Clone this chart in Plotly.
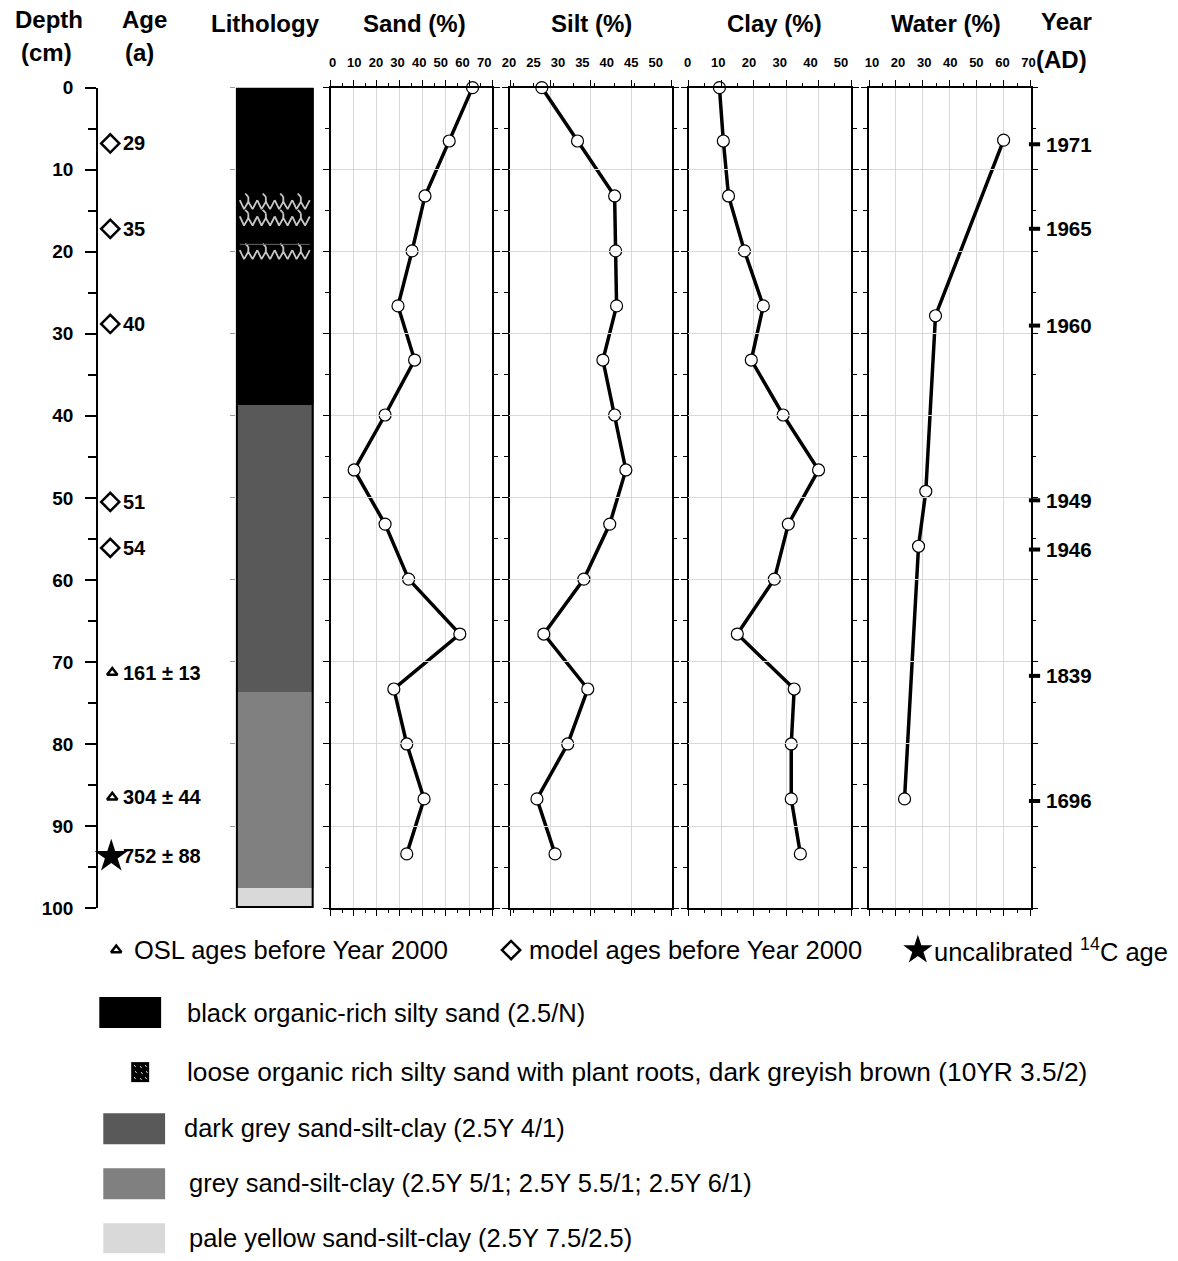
import plotly.graph_objects as go

# The photographed page appears slightly squeezed (x * 0.991, y * 0.983) and the html body keeps an
# 8px margin; layout positions below are given in reference-picture pixels and mapped accordingly.
SX, SY = 0.991, 0.983
DX, DY = 2.5, -2.5
OFF = 8
W, H = 1173, 1268
FONT = "Liberation Sans"

# ---------------- data ----------------
depth = [0, 6.5, 13.2, 19.9, 26.6, 33.2, 39.9, 46.6, 53.2, 59.9, 66.6, 73.3, 80.0, 86.7, 93.4]
sand = [61.5, 51.4, 40.9, 35.3, 29.2, 36.4, 23.6, 10.2, 23.6, 33.8, 56.0, 27.4, 33.0, 40.5, 33.0]
silt = [26.5, 33.8, 41.4, 41.6, 41.8, 39.0, 41.4, 43.7, 40.4, 35.1, 26.9, 35.9, 31.8, 25.5, 29.2]
clay = [9.5, 10.7, 12.3, 17.2, 23.0, 19.3, 29.1, 40.0, 30.7, 26.4, 15.0, 32.5, 31.6, 31.6, 34.4]
water_depth = [6.4, 27.8, 49.2, 55.9, 86.7]
water = [60.0, 34.7, 31.1, 28.4, 23.2]

model_age_depth = [6.8, 17.2, 28.8, 50.5, 56.1]
model_age = ["29", "35", "40", "51", "54"]
osl_depth = [71.3, 86.5]
osl_age = ["161 ± 13", "304 ± 44"]
c14_depth = [93.7]
c14_age = ["752 ± 88"]

year_depth = [6.9, 17.2, 29.0, 50.3, 56.3, 71.7, 86.95]
year_label = ["1971", "1965", "1960", "1949", "1946", "1839", "1696"]

litho_top = [0, 38.7, 73.6, 97.5]
litho_bottom = [38.7, 73.6, 97.5, 100]
litho_color = ["#000000", "#595959", "#808080", "#d9d9d9"]
root_rows = [14.3, 16.3, 20.4]
root_separator = 19.1

legend_texts = [
    "black organic-rich silty sand (2.5/N)",
    "loose organic rich silty sand with plant roots, dark greyish brown (10YR 3.5/2)",
    "dark grey sand-silt-clay (2.5Y 4/1)",
    "grey sand-silt-clay (2.5Y 5/1; 2.5Y 5.5/1; 2.5Y 6/1)",
    "pale yellow sand-silt-clay (2.5Y 7.5/2.5)",
]

# ---------------- helpers (picture pixels -> paper fractions) ----------------
def fx(px):
    return ((px + DX) / SX - OFF) / W

def fy(py):
    return 1 - ((py + DY) / SY - OFF) / H

YDOM = [fy(908), fy(88)]

fig = go.Figure()

# ---- age column (x / y), x in picture pixels ----
fig.add_trace(go.Scatter(x=[109] * len(model_age_depth), y=model_age_depth, mode="markers",
                         marker=dict(symbol="diamond-open", size=14, color="black", line=dict(width=2.5)),
                         xaxis="x", yaxis="y", showlegend=False, cliponaxis=False))
fig.add_trace(go.Scatter(x=[111] * len(osl_depth), y=osl_depth, mode="markers",
                         marker=dict(symbol="triangle-up-open", size=9, color="black", line=dict(width=2.5)),
                         xaxis="x", yaxis="y", showlegend=False, cliponaxis=False))
fig.add_trace(go.Scatter(x=[110] * len(c14_depth), y=c14_depth, mode="markers",
                         marker=dict(symbol="star", size=25, color="black", line=dict(width=0)),
                         xaxis="x", yaxis="y", showlegend=False, cliponaxis=False))

annotations = []
AF = dict(family=FONT, size=20, color="black", weight="bold")
for d, t in zip(model_age_depth, model_age):
    annotations.append(dict(x=120, y=d, xref="x", yref="y", text=t, showarrow=False, xanchor="left",
                            yanchor="middle", font=AF))
for d, t in zip(osl_depth + c14_depth, osl_age + c14_age):
    annotations.append(dict(x=120, y=d, xref="x", yref="y", text=t, showarrow=False, xanchor="left",
                            yanchor="middle", font=AF))

# ---- lithology column (x2 / y2) ----
for top, bot, col in zip(litho_top, litho_bottom, litho_color):
    fig.add_trace(go.Bar(x=[0.5], y=[bot - top], base=[top], width=[1.0], marker=dict(color=col, line=dict(width=0)),
                         xaxis="x2", yaxis="y2", showlegend=False))

for d in root_rows:
    xs, ys = [], []
    for k in range(4):
        x0 = 0.05 + k * 0.225
        xs += [x0, x0 + 0.055, x0 + 0.11, x0 + 0.165, x0 + 0.225, None]
        ys += [d - 0.6, d + 0.5, d - 0.4, d + 0.5, d - 0.6, None]
        xs += [x0 + 0.11, x0 + 0.11, None, x0 + 0.11, x0 + 0.07, None]
        ys += [d - 0.4, d - 1.0, None, d - 1.0, d - 1.4, None]
    fig.add_trace(go.Scatter(x=xs, y=ys, mode="lines", line=dict(color="#c8c8c8", width=1.8),
                             xaxis="x2", yaxis="y2", showlegend=False, hoverinfo="skip"))
fig.add_trace(go.Scatter(x=[0.05, 0.95], y=[root_separator, root_separator], mode="lines",
                         line=dict(color="#666666", width=1), xaxis="x2", yaxis="y2", showlegend=False))

# ---- proxy panels ----
LINE = dict(color="black", width=3.5)
MARK = dict(symbol="circle", size=12, color="white", line=dict(color="black", width=1.2))
for xa, ya, vals, dep in [("x3", "y3", sand, depth), ("x4", "y4", silt, depth),
                          ("x5", "y5", clay, depth), ("x6", "y6", water, water_depth)]:
    fig.add_trace(go.Scatter(x=vals, y=dep, mode="lines+markers", line=LINE, marker=MARK,
                             xaxis=xa, yaxis=ya, showlegend=False, cliponaxis=False))

# label-only axes (the tick labels sit slightly compressed above each panel)
for xa, ya in [("x9", "y3"), ("x10", "y4"), ("x11", "y5"), ("x12", "y6")]:
    fig.add_trace(go.Scatter(x=[None], y=[None], mode="markers", marker=dict(opacity=0),
                             xaxis=xa, yaxis=ya, showlegend=False, hoverinfo="skip"))

# ---- year column (x7 / y7), x in picture pixels ----
fig.add_trace(go.Scatter(x=[1036] * len(year_depth), y=year_depth, mode="markers",
                         marker=dict(symbol="line-ew", size=8, line=dict(width=4, color="black")),
                         xaxis="x7", yaxis="y7", showlegend=False, cliponaxis=False))
YF = dict(family=FONT, size=20.5, color="black", weight="bold")
for d, t in zip(year_depth, year_label):
    annotations.append(dict(x=1046, y=d, xref="x7", yref="y7", text=t, showarrow=False, xanchor="left",
                            yanchor="middle", font=YF))

# ---- legend symbols on full-page overlay (x8 / y8), picture pixels ----
fig.add_trace(go.Scatter(x=[115], y=[950], mode="markers",
                         marker=dict(symbol="triangle-up-open", size=9, color="black", line=dict(width=2.5)),
                         xaxis="x8", yaxis="y8", showlegend=False))
fig.add_trace(go.Scatter(x=[511], y=[950], mode="markers",
                         marker=dict(symbol="diamond-open", size=14, color="black", line=dict(width=2.5)),
                         xaxis="x8", yaxis="y8", showlegend=False))
fig.add_trace(go.Scatter(x=[919], y=[950], mode="markers",
                         marker=dict(symbol="star", size=22, color="black", line=dict(width=0)),
                         xaxis="x8", yaxis="y8", showlegend=False))

# ---------------- axes ----------------
def hidden_x(dom, rng):
    return dict(domain=dom, range=rng, showline=False, showgrid=False, zeroline=False,
                showticklabels=False, ticks="", fixedrange=True)

TICKFONT = dict(family=FONT, size=13, color="black", weight="bold")

def panel_x(dom, rng, dtick, minor, tick0):
    return dict(domain=dom, range=rng, side="top", showline=True, linecolor="black", linewidth=1.5,
                mirror="ticks", ticks="outside", ticklen=6, tickwidth=1.2, tickcolor="black",
                dtick=dtick, tick0=tick0, showticklabels=False,
                minor=dict(dtick=minor, ticklen=3, tickwidth=1, tickcolor="black", ticks="outside", showgrid=False),
                showgrid=True, gridcolor="#d9d9d9", gridwidth=1, zeroline=False)

def label_x(dom, rng, dtick, tick0, anchor):
    return dict(domain=dom, range=rng, side="top", anchor=anchor, showline=False, ticks="",
                dtick=dtick, tick0=tick0, tickfont=TICKFONT, ticklabelstandoff=17,
                showgrid=False, zeroline=False)

def panel_y(anchor):
    return dict(domain=YDOM, range=[100, 0], anchor=anchor, showline=True, linecolor="black", linewidth=1.5,
                mirror="ticks", ticks="outside", ticklen=6, tickwidth=1.2, tickcolor="black", dtick=10, tick0=0,
                minor=dict(dtick=5, ticklen=4, tickwidth=1, tickcolor="black", ticks="outside", showgrid=False),
                showticklabels=False, showgrid=True, gridcolor="#d9d9d9", gridwidth=1, zeroline=False)

# silt panel: labels 20..50 sit at 509..656 px, the panel spans 510..672 px with 4 grid intervals
SILT_MAX = 20 + (672 - 510) * 30 / (656 - 509)
SILT_GRID = (SILT_MAX - 20) / 4

layout = dict(
    width=W, height=H, margin=dict(l=0, r=0, t=0, b=0), autosize=False,
    paper_bgcolor="white", plot_bgcolor="rgba(0,0,0,0)",
    showlegend=False, bargap=0, barmode="overlay",
    xaxis=hidden_x([fx(97), fx(230)], [97, 230]),
    yaxis=dict(domain=YDOM, range=[100, 0], anchor="x", showline=True, linecolor="black", linewidth=2.2,
               ticks="outside", ticklen=11, tickwidth=2.2, tickcolor="black", dtick=10, tick0=0,
               minor=dict(dtick=5, ticklen=8, tickwidth=2.2, tickcolor="black", ticks="outside", showgrid=False),
               tickfont=dict(family=FONT, size=19, color="black", weight="bold"), ticklabelstandoff=8,
               showgrid=False, zeroline=False),
    xaxis2=hidden_x([fx(235), fx(313)], [0, 1]),
    yaxis2=dict(domain=YDOM, range=[100, 0], anchor="x2", showline=False, ticks="outside", ticklen=5,
                tickcolor="#9a9a9a", tickwidth=1, dtick=10, tick0=0, showticklabels=False,
                showgrid=False, zeroline=False),
    xaxis3=panel_x([fx(330), fx(492)], [0, 70], 10, 5, 0),
    yaxis3=panel_y("x3"),
    xaxis4=panel_x([fx(510), fx(672)], [20, SILT_MAX], SILT_GRID, SILT_GRID / 2, 20),
    yaxis4=panel_y("x4"),
    xaxis5=panel_x([fx(689), fx(852)], [0, 50], 10, 5, 0),
    yaxis5=panel_y("x5"),
    xaxis6=panel_x([fx(870), fx(1032)], [10, 70], 10, 5, 10),
    yaxis6=panel_y("x6"),
    xaxis7=hidden_x([fx(1032), fx(1166)], [1032, 1166]),
    yaxis7=dict(domain=YDOM, range=[100, 0], anchor="x7", visible=False),
    xaxis8=dict(domain=[0, 1], range=[OFF * SX - DX, (W + OFF) * SX - DX], visible=False, fixedrange=True),
    yaxis8=dict(domain=[0, 1], range=[(H + OFF) * SY - DY, OFF * SY - DY], anchor="x8", visible=False,
                fixedrange=True),
    xaxis9=label_x([fx(332), fx(484)], [0, 70], 10, 0, "y3"),
    xaxis10=label_x([fx(509), fx(656)], [20, 50], 5, 20, "y4"),
    xaxis11=label_x([fx(688), fx(842)], [0, 50], 10, 0, "y5"),
    xaxis12=label_x([fx(873), fx(1030)], [10, 70], 10, 10, "y6"),
)

# ---------------- headers ----------------
HF = dict(family=FONT, size=24, color="black", weight="bold")
headers = [("Depth", 48, 20), ("(cm)", 45, 53), ("Age", 143, 20), ("(a)", 138, 53),
           ("Lithology", 265, 24), ("Sand (%)", 414, 24), ("Silt (%)", 592, 24),
           ("Clay (%)", 775, 24), ("Water (%)", 947, 24), ("Year", 1068, 22), ("(AD)", 1063, 60)]
for t, x, y in headers:
    annotations.append(dict(x=fx(x), y=fy(y), xref="paper", yref="paper", text=t, showarrow=False,
                            xanchor="center", yanchor="middle", font=HF))

# ---------------- legend ----------------
LF = dict(family=FONT, size=25.5, color="black")
leg1 = [("OSL ages before Year 2000", 131), ("model ages before Year 2000", 527),
        ("uncalibrated <sup>14</sup>C age", 933)]
for t, x in leg1:
    annotations.append(dict(x=fx(x), y=fy(950), xref="paper", yref="paper", text=t, showarrow=False,
                            xanchor="left", yanchor="middle", font=LF))

legend_rows = [1013, 1072, 1128, 1183, 1238]
legend_text_x = [184, 184, 181, 186, 186]
legend_sizes = [25.5, 26.3, 25.5, 25.5, 25.5]
for t, x, y, s in zip(legend_texts, legend_text_x, legend_rows, legend_sizes):
    annotations.append(dict(x=fx(x), y=fy(y), xref="paper", yref="paper", text=t, showarrow=False,
                            xanchor="left", yanchor="middle", font=dict(family=FONT, size=s, color="black")))

shapes = []
# lithology outline
shapes.append(dict(type="rect", xref="x2", yref="y2", x0=0, x1=1, y0=0, y1=100,
                   line=dict(color="black", width=4), fillcolor="rgba(0,0,0,0)", layer="above"))
# legend swatches
swatches = [(98, 160, 997, 1028, litho_color[0]), (102, 164, 1113, 1144, litho_color[1]),
            (102, 164, 1168, 1199, litho_color[2]), (102, 164, 1223, 1253, litho_color[3])]
for x0, x1, y0, y1, c in swatches:
    shapes.append(dict(type="rect", xref="paper", yref="paper", x0=fx(x0), x1=fx(x1), y0=fy(y1), y1=fy(y0),
                       line=dict(width=0), fillcolor=c))
shapes.append(dict(type="rect", xref="paper", yref="paper", x0=fx(130), x1=fx(148), y0=fy(1082), y1=fy(1062),
                   line=dict(width=0), fillcolor="black"))
for sx, sy in [(133, 1065), (139, 1066), (144, 1065), (134, 1071), (140, 1072), (145, 1071),
               (133, 1077), (139, 1078), (144, 1077)]:
    shapes.append(dict(type="line", xref="paper", yref="paper", x0=fx(sx), x1=fx(sx + 1.5), y0=fy(sy), y1=fy(sy + 2),
                       line=dict(color="#dddddd", width=1)))

layout["annotations"] = annotations
layout["shapes"] = shapes
fig.update_layout(**layout)

fig.write_html("out.html")
